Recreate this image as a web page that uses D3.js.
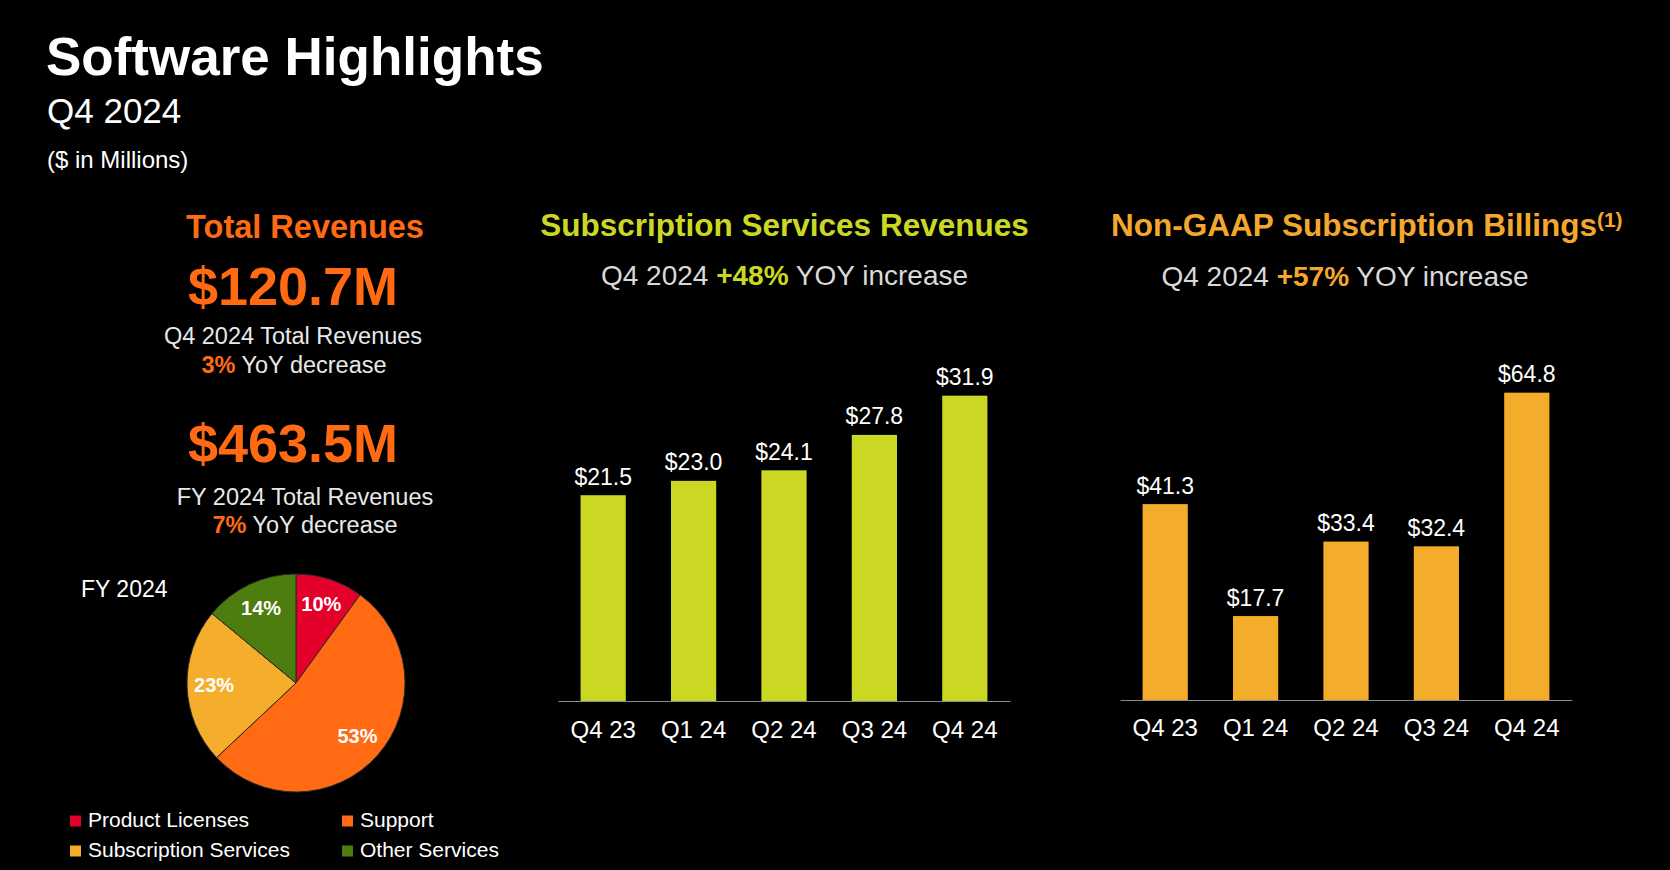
<!DOCTYPE html>
<html>
<head>
<meta charset="utf-8">
<script src="https://cdn.jsdelivr.net/npm/d3@7"></script>
<style>
  html, body { margin: 0; padding: 0; background: #000; }
  svg { display: block; }
  text { font-family: "Liberation Sans", Arial, Helvetica, sans-serif; }
</style>
</head>
<body>
<svg id="chart" width="1670" height="870"></svg>
<script>
// ---------- data ----------
const categories = ["Q4 23", "Q1 24", "Q2 24", "Q3 24", "Q4 24"];
const subscriptionRevenues = [21.5, 23.0, 24.1, 27.8, 31.9];
const subscriptionBillings = [41.3, 17.7, 33.4, 32.4, 64.8];
const pieCategories = ["Product Licenses", "Support", "Subscription Services", "Other Services"];
const pieValues = [10, 53, 23, 14];
const pieLabels = ["10%", "53%", "23%", "14%"];

// ---------- style ----------
const ORANGE = "#ff6a13";
const LIME = "#cbd823";
const GOLD = "#f4ad2b";
const pieColors = ["#e4002b", "#ff6a13", "#f4ae2b", "#4d7c0f"];
const GREY = "#d9d9d9";

const svg = d3.select("#chart");
svg.append("rect").attr("width", 1670).attr("height", 870).attr("fill", "#000");

// ---------- header ----------
svg.append("text").attr("x", 46).attr("y", 75)
  .attr("font-size", 53).attr("font-weight", "bold").attr("fill", "#fff")
  .text("Software Highlights");
svg.append("text").attr("x", 47).attr("y", 123)
  .attr("font-size", 35).attr("fill", "#fff")
  .text("Q4 2024");
svg.append("text").attr("x", 47).attr("y", 168)
  .attr("font-size", 24).attr("fill", "#fff")
  .text("($ in Millions)");

// ---------- total revenues block ----------
function centered(x, y, size, parts) {
  const t = svg.append("text").attr("x", x).attr("y", y)
    .attr("text-anchor", "middle").attr("font-size", size);
  parts.forEach(p => {
    t.append("tspan").attr("fill", p.c).attr("font-weight", p.b ? "bold" : "normal").text(p.t);
  });
  return t;
}
centered(305, 238, 32.5, [{t: "Total Revenues", c: ORANGE, b: true}]);
centered(293, 305, 54, [{t: "$120.7M", c: ORANGE, b: true}]);
centered(293, 344, 23.5, [{t: "Q4 2024 Total Revenues", c: "#e8e8e8"}]);
centered(294, 373, 23.5, [{t: "3%", c: ORANGE, b: true}, {t: " YoY decrease", c: "#e8e8e8"}]);
centered(293, 462, 54, [{t: "$463.5M", c: ORANGE, b: true}]);
centered(305, 505, 23.5, [{t: "FY 2024 Total Revenues", c: "#e8e8e8"}]);
centered(305, 533, 23.5, [{t: "7%", c: ORANGE, b: true}, {t: " YoY decrease", c: "#e8e8e8"}]);

// ---------- pie ----------
svg.append("text").attr("x", 81).attr("y", 597)
  .attr("font-size", 23).attr("fill", "#fff").text("FY 2024");

const pieG = svg.append("g").attr("transform", "translate(296,683)");
const pie = d3.pie().sort(null).value(d => d)(pieValues);
const arc = d3.arc().innerRadius(0).outerRadius(109);
const labelArc = d3.arc().innerRadius(82).outerRadius(82);
pieG.selectAll("path").data(pie).join("path")
  .attr("d", arc)
  .attr("fill", (d, i) => pieColors[i])
  .attr("stroke", "#2a2a2a").attr("stroke-width", 1);
pieG.selectAll("text").data(pie).join("text")
  .attr("transform", d => `translate(${labelArc.centroid(d)})`)
  .attr("text-anchor", "middle").attr("dy", "0.3em")
  .attr("font-size", 20).attr("font-weight", "bold").attr("fill", "#fff")
  .text((d, i) => pieLabels[i]);

// legend
const legendPos = [[70, 815], [342, 815], [70, 845], [342, 845]];
pieCategories.forEach((name, i) => {
  const [lx, ly] = legendPos[i];
  svg.append("rect").attr("x", lx).attr("y", ly + 0.5).attr("width", 11).attr("height", 11)
    .attr("fill", pieColors[i]);
  svg.append("text").attr("x", lx + 18).attr("y", ly + 12)
    .attr("font-size", 21).attr("fill", "#fff").text(name);
});

// ---------- bar charts ----------
function barChart(opts) {
  const x = d3.scaleBand().domain(categories).range([opts.x0, opts.x1])
    .paddingInner(0.5).paddingOuter(0.25);
  const y = d3.scaleLinear().domain([0, opts.max]).range([opts.base, opts.top]);
  const g = svg.append("g");

  // title
  const t = g.append("text").attr("x", opts.titleX).attr("y", 236)
    .attr("text-anchor", opts.titleAnchor).attr("font-size", 31.5)
    .attr("font-weight", "bold").attr("fill", opts.titleColor);
  t.append("tspan").text(opts.title);
  if (opts.sup) {
    t.append("tspan").attr("font-size", 21).attr("dy", -9).text(opts.sup);
  }
  // subtitle
  const s = g.append("text").attr("x", opts.subX).attr("y", opts.subY)
    .attr("text-anchor", "middle").attr("font-size", 28).attr("fill", GREY);
  s.append("tspan").text("Q4 2024 ");
  s.append("tspan").attr("font-weight", "bold").attr("fill", opts.titleColor).text(opts.pct);
  s.append("tspan").text(" YOY increase");

  // bars
  g.selectAll("rect.bar").data(opts.values).join("rect")
    .attr("class", "bar")
    .attr("x", (d, i) => x(categories[i]))
    .attr("width", x.bandwidth())
    .attr("y", d => y(d))
    .attr("height", d => y(0) - y(d))
    .attr("fill", opts.color);

  // value labels
  g.selectAll("text.val").data(opts.values).join("text")
    .attr("class", "val")
    .attr("x", (d, i) => x(categories[i]) + x.bandwidth() / 2)
    .attr("y", d => y(d) - 10.5)
    .attr("text-anchor", "middle").attr("font-size", 23).attr("fill", "#fff")
    .text(d => "$" + d3.format(".1f")(d));

  // axis
  const axis = d3.axisBottom(x).tickSize(0).tickPadding(0);
  const ax = g.append("g").attr("transform", `translate(0,${opts.base})`).call(axis);
  ax.select(".domain").attr("stroke", "#8c8c8c").attr("stroke-width", 1.2);
  ax.selectAll(".tick text")
    .attr("font-family", "Liberation Sans, Arial, sans-serif")
    .attr("font-size", 24).attr("fill", "#fff")
    .attr("dy", 0).attr("y", opts.labelY - opts.base);
}

barChart({
  values: subscriptionRevenues, x0: 558, x1: 1010, base: 701, top: 366, max: 35,
  color: LIME, titleColor: LIME, title: "Subscription Services Revenues",
  titleX: 784.5, titleAnchor: "middle", subX: 784.5, subY: 285, pct: "+48%", labelY: 738
});
barChart({
  values: subscriptionBillings, x0: 1120, x1: 1572, base: 700, top: 368, max: 70,
  color: GOLD, titleColor: "#f3a72e", title: "Non-GAAP Subscription Billings", sup: "(1)",
  titleX: 1111, titleAnchor: "start", subX: 1345, subY: 286, pct: "+57%", labelY: 736
});
</script>
</body>
</html>
